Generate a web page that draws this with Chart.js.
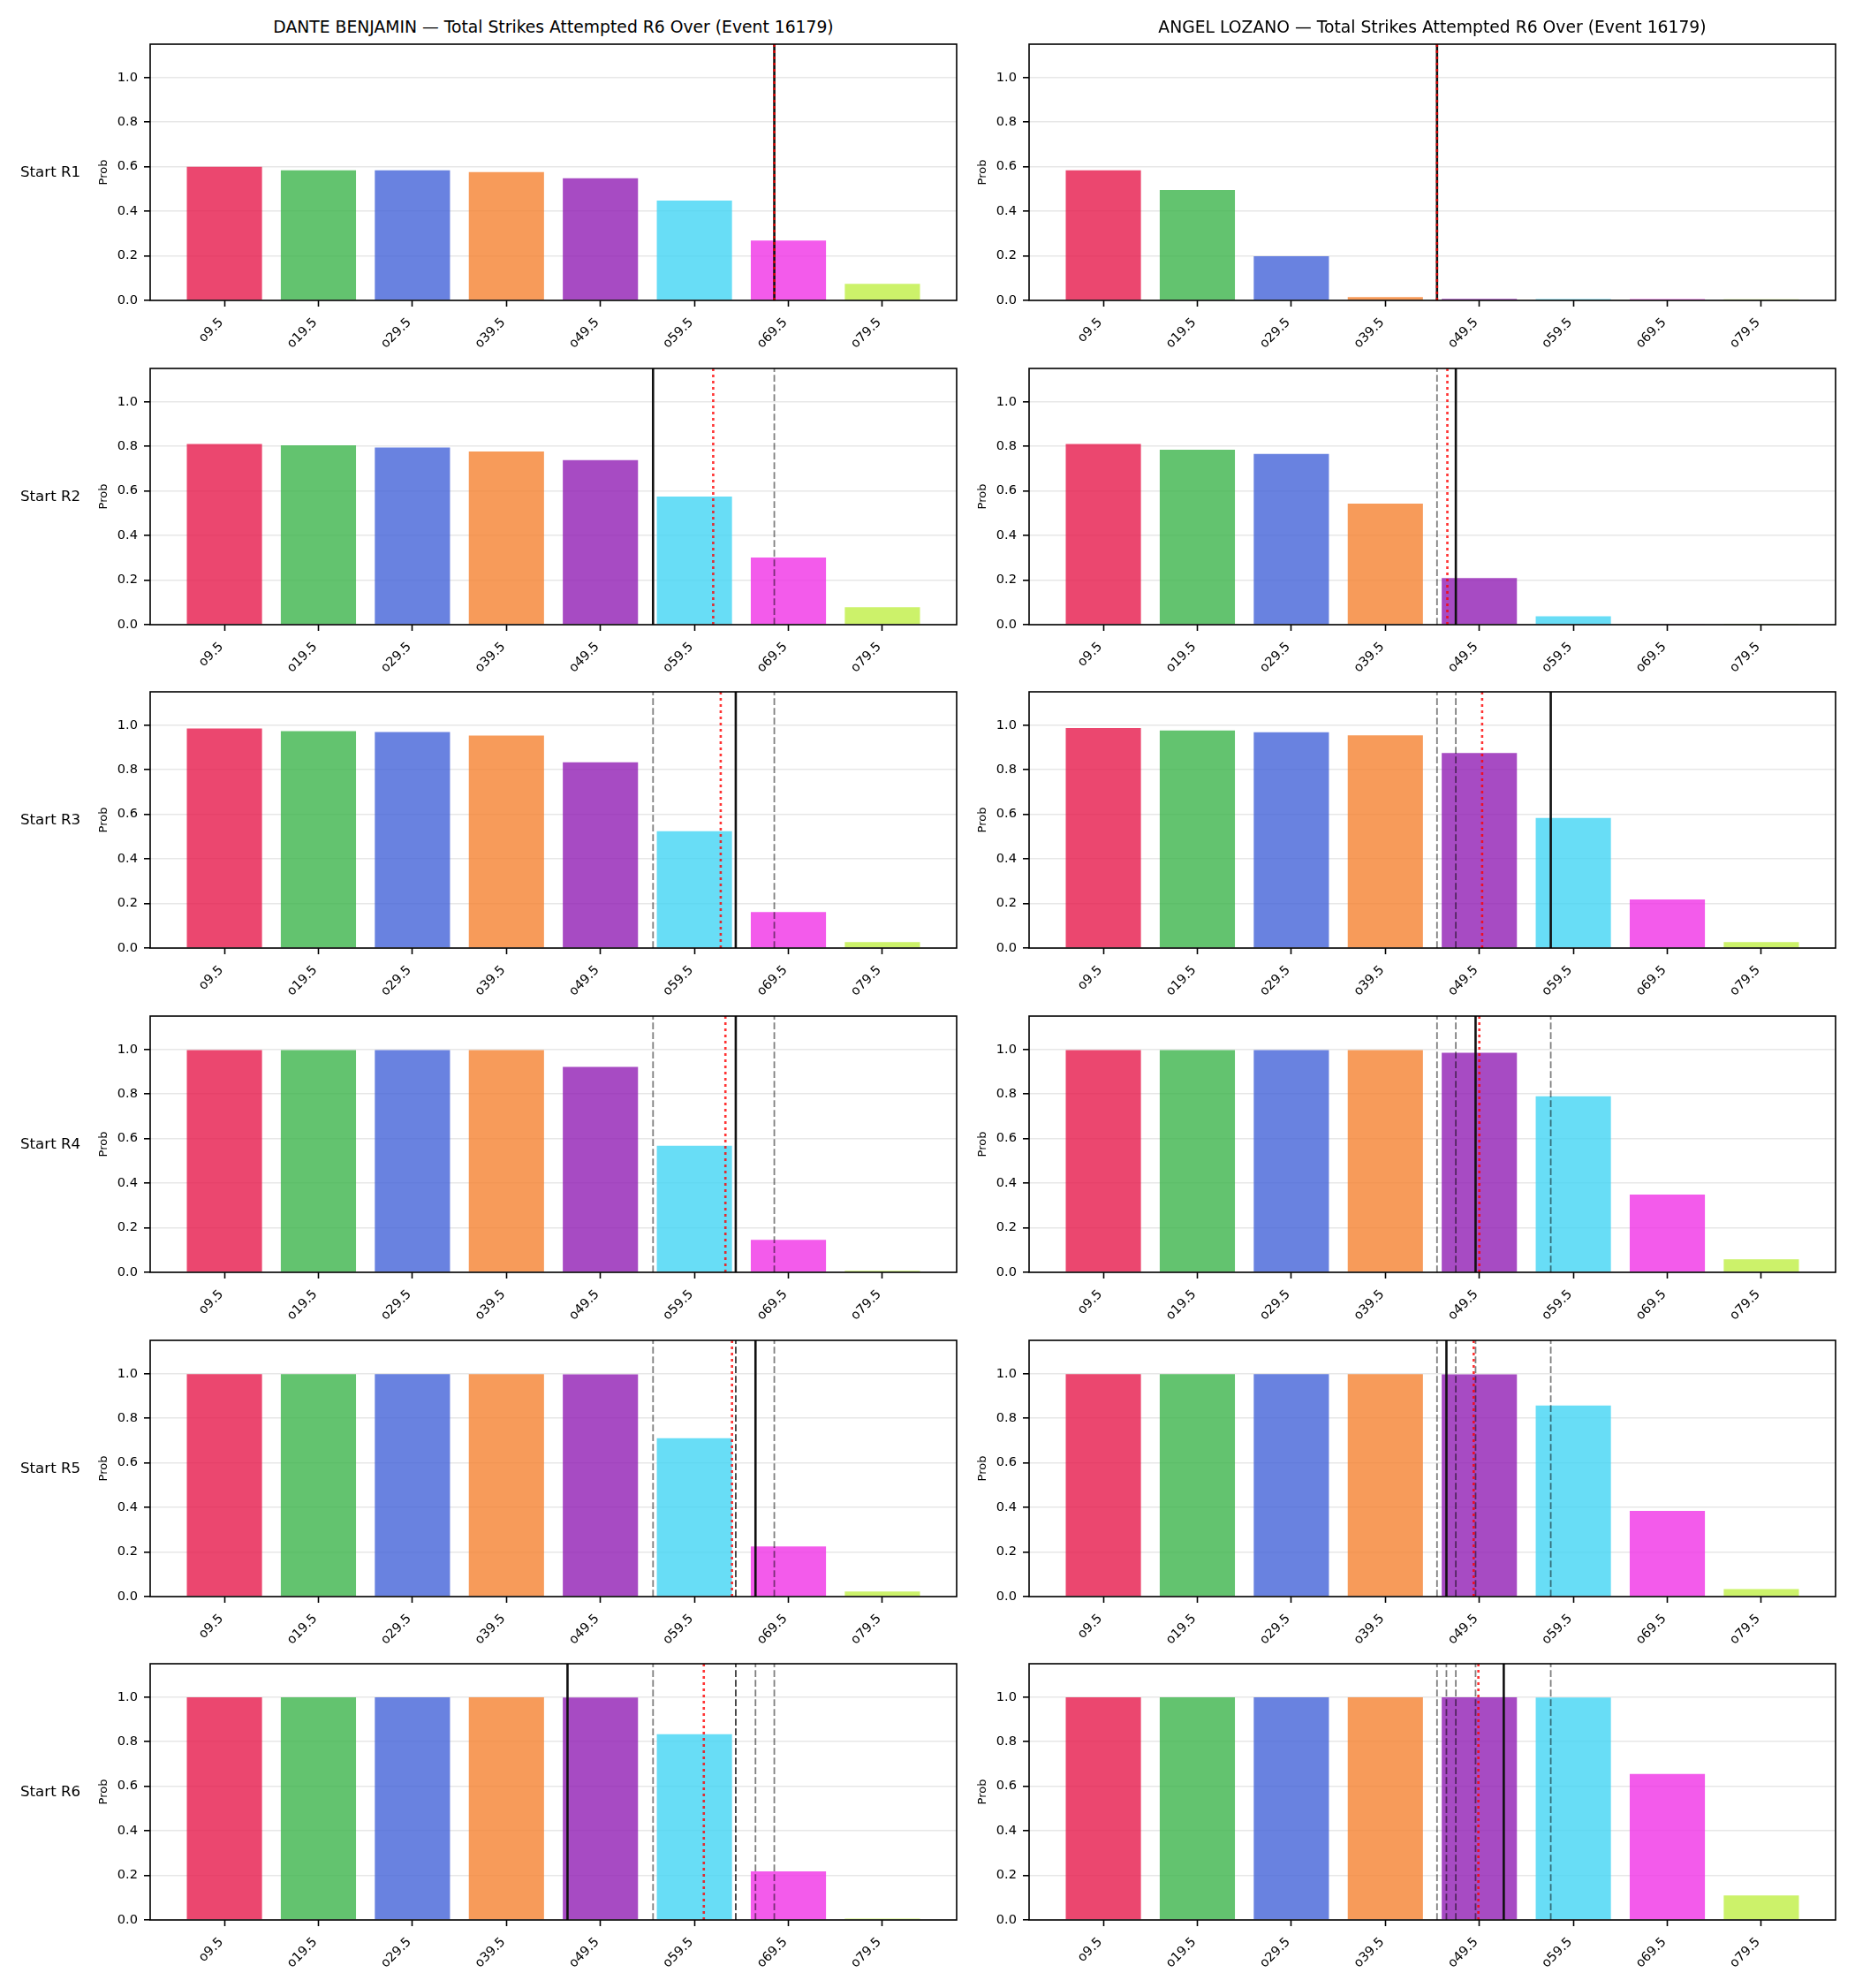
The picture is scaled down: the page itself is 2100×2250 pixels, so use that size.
<!DOCTYPE html>
<html>
<head>
<meta charset="utf-8">
<script src="https://cdn.jsdelivr.net/npm/chart.js@4.4.1/dist/chart.umd.min.js"></script>
<style>
html, body { margin: 0; padding: 0; background: #fff; }
body { width: 2100px; height: 2250px; position: relative; overflow: hidden; font-family: 'DejaVu Sans', sans-serif; }
canvas { position: absolute; }
.title { position: absolute; font-size: 18.75px; line-height: 1; white-space: nowrap; text-align: center; color: #000; }
.rowlab { position: absolute; font-size: 16.67px; line-height: 1; white-space: nowrap; color: #000; }
</style>
</head>
<body>
<script>
// ---------------- data ----------------
const categories = ['o9.5', 'o19.5', 'o29.5', 'o39.5', 'o49.5', 'o59.5', 'o69.5', 'o79.5'];
const rounds = ['R1', 'R2', 'R3', 'R4', 'R5', 'R6'];
const fighters = ['DANTE BENJAMIN', 'ANGEL LOZANO'];
const marketName = 'Total Strikes Attempted R6 Over';
const eventId = 16179;

const danteR1 = [0.600, 0.584, 0.584, 0.576, 0.548, 0.448, 0.269, 0.074];
const danteR2 = [0.811, 0.805, 0.795, 0.777, 0.739, 0.575, 0.301, 0.078];
const danteR3 = [0.985, 0.974, 0.970, 0.954, 0.834, 0.524, 0.162, 0.027];
const danteR4 = [0.997, 0.997, 0.997, 0.997, 0.922, 0.568, 0.146, 0.007];
const danteR5 = [0.998, 0.998, 0.998, 0.998, 0.997, 0.711, 0.225, 0.023];
const danteR6 = [0.999, 0.999, 0.999, 0.999, 0.998, 0.834, 0.218, 0.006];

const angelR1 = [0.584, 0.496, 0.198, 0.015, 0.007, 0.006, 0.006, 0.005];
const angelR2 = [0.811, 0.785, 0.766, 0.543, 0.209, 0.038, 0.004, 0.001];
const angelR3 = [0.987, 0.977, 0.969, 0.955, 0.875, 0.584, 0.218, 0.027];
const angelR4 = [0.997, 0.997, 0.997, 0.997, 0.985, 0.790, 0.349, 0.058];
const angelR5 = [0.998, 0.998, 0.998, 0.998, 0.997, 0.858, 0.385, 0.034];
const angelR6 = [0.999, 0.999, 0.999, 0.999, 0.999, 0.998, 0.655, 0.110];

// projected strikes (solid black) and model mean (red dotted) per starting round
const danteProjection = [68.0, 55.1, 63.9, 63.9, 66.0, 46.0];
const danteModel      = [68.0, 61.5, 62.3, 62.8, 63.5, 60.5];
const angelProjection = [45.0, 47.0, 57.1, 49.1, 46.0, 52.1];
const angelModel      = [45.0, 46.1, 49.8, 49.5, 48.9, 49.4];

// ---------------- styles / layout ----------------
const barColors = ['rgba(230,25,75,0.8)', 'rgba(60,180,75,0.8)', 'rgba(67,99,216,0.8)', 'rgba(245,130,49,0.8)',
                   'rgba(145,30,180,0.8)', 'rgba(66,212,244,0.8)', 'rgba(240,50,230,0.8)', 'rgba(191,239,69,0.8)'];
const AX_W = 913, AX_H = 290;
const PAD_L = 100, PAD_T = 8, PAD_R = 8, PAD_B = 70;
const colLeft = [170, 1165];
const rowTop = [50, 417, 783, 1150, 1517, 1883];
const X_MIN = -0.79, X_MAX = 7.79, Y_MAX = 1.15;

Chart.defaults.font.family = "'DejaVu Sans', sans-serif";
Chart.defaults.color = '#000';
Chart.defaults.animation = false;

const catVals = categories.map(c => parseFloat(c.slice(1)));
const toIndex = v => (v - catVals[0]) / (catVals[1] - catVals[0]);

const framePlugin = {
  id: 'frame',
  afterDraw(chart) {
    const { ctx, chartArea: a } = chart;
    ctx.save();
    ctx.strokeStyle = '#000';
    ctx.lineWidth = 1.6;
    ctx.setLineDash([]);
    ctx.strokeRect(a.left, a.top, a.right - a.left, a.bottom - a.top);
    ctx.restore();
  }
};

function vline(value, color, width, dash, order) {
  const xi = toIndex(value);
  return {
    type: 'line',
    data: [{ x: xi, y: 0 }, { x: xi, y: Y_MAX }],
    borderColor: color, borderWidth: width, borderDash: dash,
    pointRadius: 0, pointHoverRadius: 0, fill: false, tension: 0, order: order
  };
}

function makePanel(col, row, probs, projections, models) {
  const canvas = document.createElement('canvas');
  const w = PAD_L + AX_W + PAD_R, h = PAD_T + AX_H + PAD_B;
  canvas.width = w; canvas.height = h;
  canvas.style.width = w + 'px'; canvas.style.height = h + 'px';
  canvas.style.left = (colLeft[col] - PAD_L) + 'px';
  canvas.style.top = (rowTop[row] - PAD_T) + 'px';
  document.body.appendChild(canvas);

  const datasets = [{
    type: 'bar',
    data: probs.map((p, i) => ({ x: i, y: p })),
    backgroundColor: barColors,
    borderWidth: 0,
    barPercentage: 0.8,
    categoryPercentage: 1.0,
    order: 10
  }];
  projections.slice(0, row).forEach(v => datasets.push(vline(v, 'rgba(0,0,0,0.5)', 1.8, [7.7, 3.3], 3)));
  datasets.push(vline(projections[row], '#111', 2.6, [], 2));
  datasets.push(vline(models[row], 'rgba(255,0,0,0.8)', 2.6, [3, 4], 1));

  new Chart(canvas, {
    type: 'bar',
    data: { datasets },
    options: {
      responsive: false,
      devicePixelRatio: 1,
      animation: false,
      layout: { padding: { left: 0, top: PAD_T, right: PAD_R, bottom: 0 } },
      plugins: { legend: { display: false }, tooltip: { enabled: false }, title: { display: false } },
      scales: {
        x: {
          type: 'linear', min: X_MIN, max: X_MAX, offset: false,
          afterFit(s) { s.height = PAD_B; s.paddingLeft = 0; s.paddingRight = 0; },
          border: { display: false },
          grid: { display: true, offset: false, drawOnChartArea: false, drawTicks: true, tickLength: 7, tickWidth: 1.6, tickColor: '#000' },
          ticks: {
            stepSize: 1, includeBounds: false, autoSkip: false, minRotation: 45, maxRotation: 45,
            padding: 9.5, labelOffset: -3.5, font: { size: 14.58 }, color: '#000',
            callback: v => (categories[v] !== undefined ? categories[v] : '')
          }
        },
        y: {
          min: 0, max: Y_MAX, z: 1,
          afterFit(s) { s.width = PAD_L; s.paddingTop = 0; s.paddingBottom = 0; },
          border: { display: false },
          grid: { color: 'rgba(176,176,176,0.3)', lineWidth: 1.6, drawTicks: true, tickLength: 7, tickWidth: 1.6, tickColor: '#000' },
          ticks: { stepSize: 0.2, includeBounds: false, padding: 7, font: { size: 14.58 }, color: '#000',
                   callback: v => v.toFixed(1) },
          title: { display: true, text: 'Prob', font: { size: 13 }, color: '#000', padding: { top: 40, bottom: 0 } }
        }
      }
    },
    plugins: [framePlugin]
  });
}

const danteRounds = [danteR1, danteR2, danteR3, danteR4, danteR5, danteR6];
const angelRounds = [angelR1, angelR2, angelR3, angelR4, angelR5, angelR6];

rounds.forEach((r, i) => {
  makePanel(0, i, danteRounds[i], danteProjection, danteModel);
  makePanel(1, i, angelRounds[i], angelProjection, angelModel);
  const lab = document.createElement('div');
  lab.className = 'rowlab';
  lab.textContent = 'Start ' + r;
  lab.style.left = '23px';
  lab.style.top = (rowTop[i] + AX_H / 2 - 8) + 'px';
  document.body.appendChild(lab);
});

fighters.forEach((f, c) => {
  const t = document.createElement('div');
  t.className = 'title';
  t.textContent = f + ' \u2014 ' + marketName + ' (Event ' + eventId + ')';
  t.style.left = colLeft[c] + 'px';
  t.style.width = AX_W + 'px';
  t.style.top = '22px';
  document.body.appendChild(t);
});
</script>
</body>
</html>
